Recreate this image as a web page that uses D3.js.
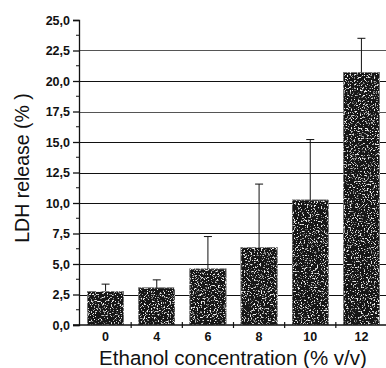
<!DOCTYPE html>
<html>
<head>
<meta charset="utf-8">
<script src="https://cdn.jsdelivr.net/npm/d3@7"></script>
<style>
  body { margin: 0; background: #fff; }
  svg { display: block; font-family: Arial, "Liberation Sans", sans-serif; }
</style>
</head>
<body>
<div id="chart"></div>
<script>
// Chart size
var chartWidth  = 386;
var chartHeight = 368;

// Data
var concentrations = ['0', '4', '6', '8', '10', '12'];
var ldhRelease     = [2.75, 3.05, 4.6, 6.35, 10.25, 20.7];
var errorUpper     = [3.35, 3.7, 7.25, 11.55, 15.2, 23.5];
var yTicks         = [0, 2.5, 5, 7.5, 10, 12.5, 15, 17.5, 20, 22.5, 25];
var gridValues     = [2.5, 5, 7.5, 10, 12.5, 15, 17.5, 20, 22.5];

var axisX = 79;
var rows = concentrations.map(function(c, i){
    return { c: c, v: ldhRelease[i], e: errorUpper[i] };
});

var svg = d3.select('#chart')
    .append('svg')
    .attr('width', chartWidth)
    .attr('height', chartHeight);

// speckled "scanned" texture for the bars
var defs = svg.append('defs');
var filter = defs.append('filter')
    .attr('id', 'grain')
    .attr('x', 0).attr('y', 0).attr('width', 1).attr('height', 1);
filter.append('feTurbulence')
    .attr('type', 'fractalNoise')
    .attr('baseFrequency', 0.7)
    .attr('numOctaves', 2)
    .attr('seed', 7)
    .attr('result', 'noise');
filter.append('feColorMatrix')
    .attr('in', 'noise')
    .attr('type', 'matrix')
    .attr('values', '0 0 0 0 0.9  0 0 0 0 0.9  0 0 0 0 0.9  7 0 0 0 -4.0')
    .attr('result', 'speck');
filter.append('feComposite')
    .attr('in', 'speck')
    .attr('in2', 'SourceGraphic')
    .attr('operator', 'atop');

var x = d3.scaleBand()
    .domain(concentrations)
    .range([80, 387])
    .paddingInner(0.29)
    .paddingOuter(0.145);

var y = d3.scaleLinear()
    .domain([0, 25])
    .range([325, 20]);

var fmt = d3.formatLocale({ decimal: ',', thousands: '.', grouping: [3], currency: ['', ''] }).format('.1f');

// gridlines
svg.selectAll('line.grid')
    .data(gridValues)
    .enter()
    .append('line')
    .attr('class', 'grid')
    .attr('x1', axisX)
    .attr('x2', chartWidth)
    .attr('y1', function(d){ return Math.round(y(d)) + 0.5; })
    .attr('y2', function(d){ return Math.round(y(d)) + 0.5; })
    .attr('stroke', function(d){ return (d === 22.5 || d === 17.5) ? '#555' : '#111'; })
    .attr('stroke-width', 1.2);

// bars
svg.selectAll('rect.bar')
    .data(rows)
    .enter()
    .append('rect')
    .attr('class', 'bar')
    .attr('x', function(d){ return x(d.c); })
    .attr('y', function(d){ return y(d.v); })
    .attr('width', x.bandwidth())
    .attr('height', function(d){ return y(0) - y(d.v); })
    .attr('fill', '#161616')
    .attr('stroke', '#777')
    .attr('stroke-width', 1)
    .attr('filter', 'url(#grain)');

// error bars (upper only)
var err = svg.selectAll('g.err')
    .data(rows)
    .enter()
    .append('g')
    .attr('class', 'err')
    .attr('stroke', '#111')
    .attr('stroke-width', 1);
err.append('line')
    .attr('x1', function(d){ return x(d.c) + x.bandwidth() / 2; })
    .attr('x2', function(d){ return x(d.c) + x.bandwidth() / 2; })
    .attr('y1', function(d){ return y(d.v); })
    .attr('y2', function(d){ return y(d.e); });
err.append('line')
    .attr('x1', function(d){ return x(d.c) + x.bandwidth() / 2 - 4; })
    .attr('x2', function(d){ return x(d.c) + x.bandwidth() / 2 + 4; })
    .attr('y1', function(d){ return y(d.e); })
    .attr('y2', function(d){ return y(d.e); });

// y axis
var yAxis = d3.axisLeft(y)
    .tickValues(yTicks)
    .tickFormat(fmt)
    .tickSize(6)
    .tickPadding(3);
var yg = svg.append('g')
    .attr('transform', 'translate(' + axisX + ',0)')
    .call(yAxis);
yg.select('.domain').attr('stroke', '#111').attr('stroke-width', 1.3);
yg.selectAll('.tick line').attr('stroke', '#111').attr('stroke-width', 1.3);
yg.selectAll('.tick text')
    .attr('font-size', 12.5)
    .attr('font-weight', 'bold')
    .attr('fill', '#111')
    .attr('font-family', 'Arial, "Liberation Sans", sans-serif');

// minor y ticks
svg.selectAll('line.ymin')
    .data(yTicks.slice(0, -1))
    .enter()
    .append('line')
    .attr('class', 'ymin')
    .attr('x1', axisX - 3)
    .attr('x2', axisX)
    .attr('y1', function(d){ return y(d + 1.25); })
    .attr('y2', function(d){ return y(d + 1.25); })
    .attr('stroke', '#111');

// x axis
svg.append('line')
    .attr('x1', axisX - 6)
    .attr('x2', chartWidth)
    .attr('y1', y(0))
    .attr('y2', y(0))
    .attr('stroke', '#111')
    .attr('stroke-width', 1.5);

// small crossing ticks between bars
svg.selectAll('line.xtick')
    .data(concentrations.slice(1))
    .enter()
    .append('line')
    .attr('class', 'xtick')
    .attr('x1', function(d){ return x(d) - x.step() * x.paddingInner() / 2; })
    .attr('x2', function(d){ return x(d) - x.step() * x.paddingInner() / 2; })
    .attr('y1', y(0) - 3)
    .attr('y2', y(0) + 3)
    .attr('stroke', '#111')
    .attr('stroke-width', 1.2);

svg.selectAll('text.xlab')
    .data(concentrations)
    .enter()
    .append('text')
    .attr('class', 'xlab')
    .attr('x', function(d){ return x(d) + x.bandwidth() / 2; })
    .attr('y', 341)
    .attr('text-anchor', 'middle')
    .attr('font-size', 12.5)
    .attr('font-weight', 'bold')
    .attr('fill', '#111')
    .text(function(d){ return d; });

// axis titles
svg.append('text')
    .attr('x', 233)
    .attr('y', 365)
    .attr('text-anchor', 'middle')
    .attr('font-size', 20.5)
    .attr('fill', '#111')
    .text('Ethanol concentration (% v/v)');

svg.append('text')
    .attr('transform', 'translate(29,168) rotate(-90)')
    .attr('text-anchor', 'middle')
    .attr('font-size', 19.5)
    .attr('fill', '#111')
    .text('LDH release (% )');
</script>
</body>
</html>
